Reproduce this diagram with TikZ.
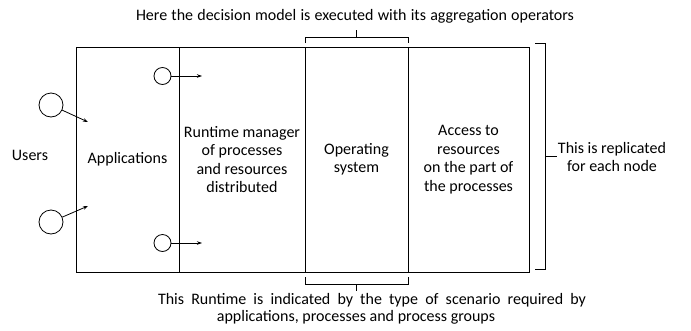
\documentclass[tikz,border=0pt]{standalone}
\usepackage{fontspec}
\setmainfont{Carlito}
\usetikzlibrary{arrows.meta}
\begin{document}
\begin{tikzpicture}[x=1pt,y=-1pt,
  cell/.style={draw, line width=1pt, minimum height=225pt, inner sep=0pt, align=center, font=\fontsize{16}{18.5}\selectfont},
  lbl/.style={align=center, font=\fontsize{16}{18}\selectfont, inner sep=0pt},
  bigc/.style={draw, circle, minimum size=24pt, inner sep=0pt, line width=0.8pt},
  smallc/.style={draw, circle, minimum size=17pt, inner sep=0pt, line width=0.8pt},
  arr/.style={-{Stealth[length=5pt,width=3.5pt]}, line width=0.8pt},
  brk/.style={line width=1pt}]
\useasboundingbox (0,0) rectangle (691,330);
% cells
\node[cell, minimum width=103pt] (apps) at (127.5,159.5) {Applications};
\node[cell, minimum width=126pt] (rt) at (242,159.5) {Runtime manager\\of processes\\and resources\\distributed};
\node[cell, minimum width=103pt] (os) at (356.5,159.5) {Operating\\system};
\node[cell, minimum width=121pt] (acc) at (468.5,159.5) {Access to\\resources\\on the part of\\the processes};
% users
\node[lbl] (users) at (30,155) {Users};
\node[bigc] (u1) at (51,105) {};
\node[bigc] (u2) at (51,222) {};
\coordinate (u1e) at (88,122);
\coordinate (u2e) at (88,206);
\draw[arr] (u1) -- (u1e);
\draw[arr] (u2) -- (u2e);
% processes
\node[smallc] (p1) at (162.5,76) {};
\node[smallc] (p2) at (162.5,243) {};
\coordinate (p1e) at (202,76);
\coordinate (p2e) at (202,243);
\draw[arr] (p1) -- (p1e);
\draw[arr] (p2) -- (p2e);
% top bracket
\coordinate (tb) at (356.5,37);
\draw[brk] (305,43) -- (305,37) -- (408,37) -- (408,43);
\draw[brk] (tb) -- (356.5,30);
\node[lbl] (toptext) at (355,16) {\makebox[438pt][s]{Here the decision model is executed with its aggregation operators}};
% bottom bracket
\coordinate (bb) at (356.5,284);
\draw[brk] (305,277) -- (305,284) -- (408,284) -- (408,277);
\draw[brk] (bb) -- (356.5,291);
\node[lbl] (bottext1) at (372,300) {\makebox[428pt][s]{This Runtime is indicated by the type of scenario required by}};
\node[lbl] (bottext2) at (356,317) {applications, processes and process groups};
% right bracket
\coordinate (rb) at (545,156);
\draw[brk] (535,43) -- (545,43) -- (545,269) -- (535,269);
\draw[brk] (rb) -- (557,156);
\node[lbl] (righttext) at (612,157) {This is replicated\\for each node};
\end{tikzpicture}
\end{document}
